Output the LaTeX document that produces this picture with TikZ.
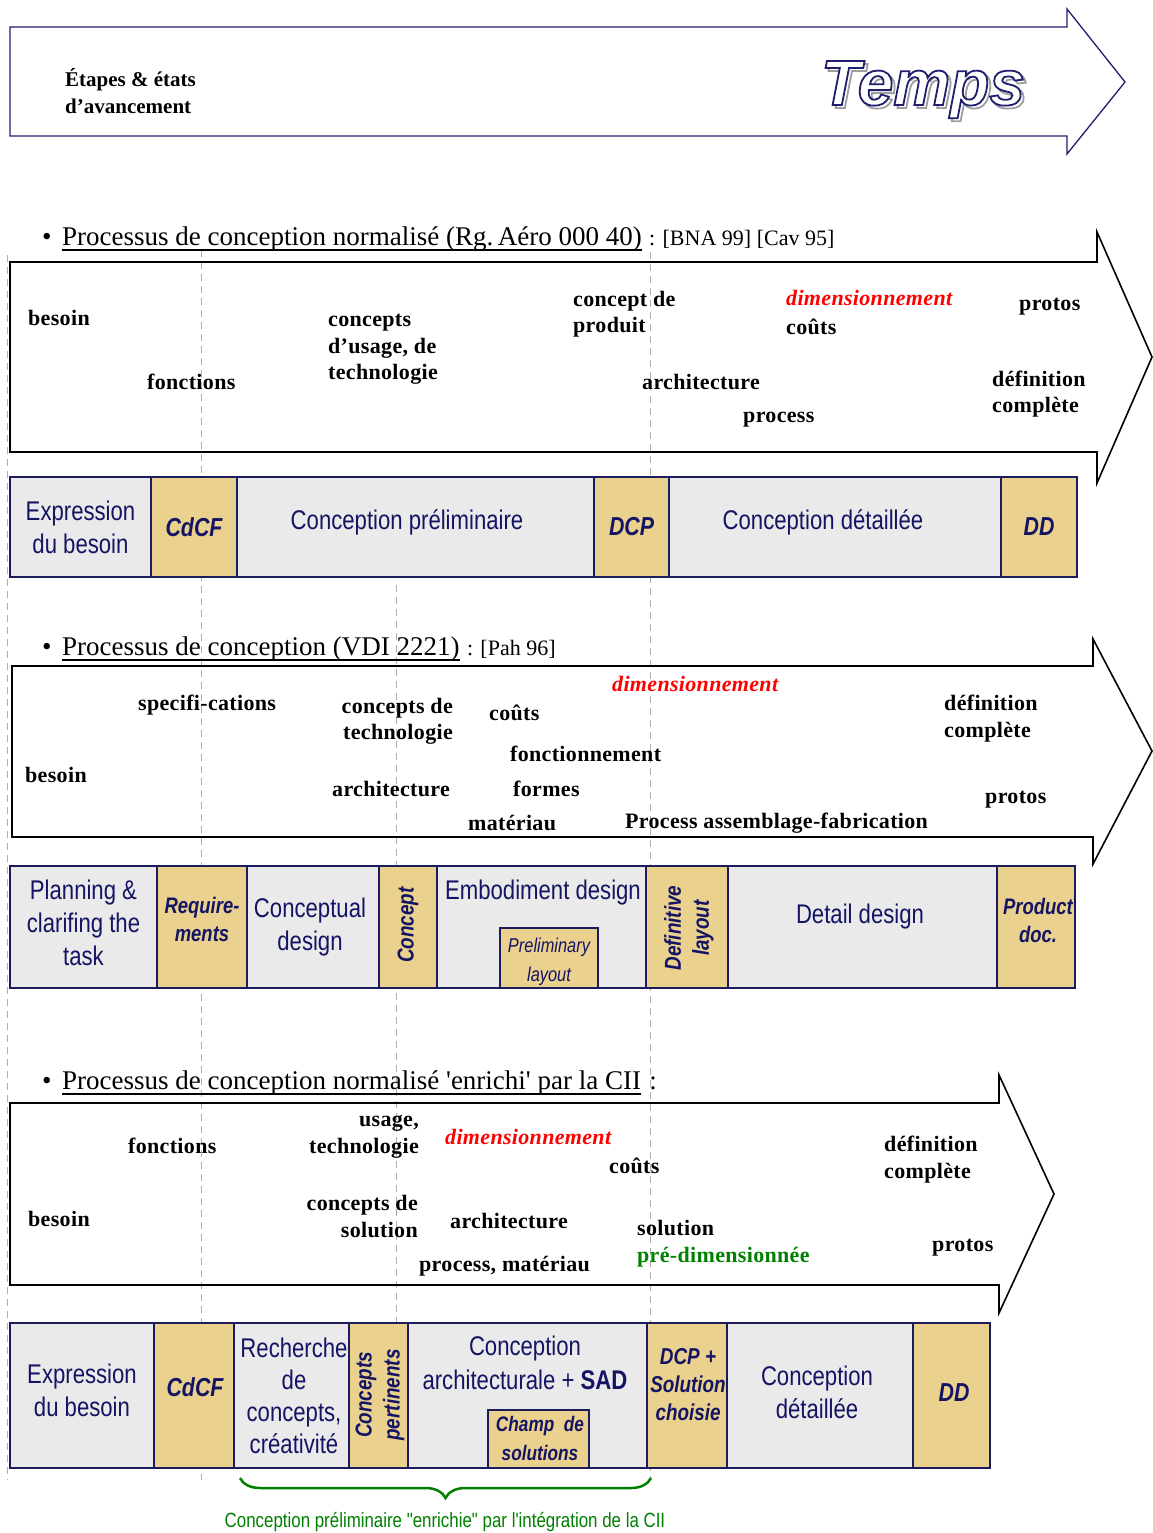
\documentclass[tikz,border=0pt]{standalone}
\usepackage{fontspec}
\usetikzlibrary{decorations.pathreplacing}
\newfontfamily\serifL{Liberation Serif}[Ligatures=TeXOff]
\newfontfamily\serifLS{Liberation Serif}[Ligatures=TeXOff,LetterSpace=1.5]
\newfontfamily\narL{Liberation Sans}[FakeStretch=0.82,Ligatures=TeXOff]
\newfontfamily\sansL{Liberation Sans}[Ligatures=TeXOff]
\definecolor{navyb}{RGB}{28,28,92}
\definecolor{navyt}{RGB}{20,20,100}
\definecolor{boxgray}{RGB}{234,234,234}
\definecolor{tanf}{RGB}{235,209,142}
\definecolor{dgray}{RGB}{175,175,175}
\definecolor{redl}{RGB}{255,0,0}
\definecolor{greenl}{RGB}{0,128,0}
\definecolor{topnavy}{RGB}{30,30,110}
\newcommand\LabF{\serifLS\bfseries\fontsize{22}{26.5}\selectfont}
\newcommand\TopF{\serifL\bfseries\fontsize{21}{27}\selectfont}
\newcommand\HeadF{\serifL\fontsize{27}{32}\selectfont}
\newcommand\RefF{\serifL\fontsize{22}{26}\selectfont}
\newcommand\BoxF{\narL\fontsize{27}{33}\selectfont}
\newcommand\TanF{\narL\bfseries\itshape\fontsize{26}{32}\selectfont}
\newcommand\TanSF{\narL\bfseries\itshape\fontsize{22.5}{28}\selectfont}
\newcommand\RotF{\narL\bfseries\itshape\fontsize{23}{28}\selectfont}
\newcommand\PrelF{\narL\itshape\fontsize{20}{29}\selectfont}
\newcommand\GreenF{\narL\fontsize{20.6}{24}\selectfont}
\newcommand\TempsF{\sansL\bfseries\itshape\fontsize{64}{70}\selectfont}
\newcommand\OutlineTxt[3]{\special{pdf:literal direct 2 Tr #2 w #1 RG}#3\special{pdf:literal direct 0 Tr}}
\begin{document}
\begin{tikzpicture}[x=1pt,y=-1pt,
  lab/.style={font=\LabF, inner sep=0pt, anchor=west},
  labm/.style={lab, align=left},
  labr/.style={font=\LabF, inner sep=0pt, anchor=east, align=right},
  dimlab/.style={lab, text=redl, font=\LabF\itshape},
  gbox/.style={draw=navyb, line width=1.2pt, fill=boxgray, text=navyt, font=\BoxF, align=center, inner sep=0pt, outer sep=0pt},
  tbox/.style={gbox, fill=tanf, line width=2pt, font=\TanF},
  rtext/.style={text=navyt, inner sep=0pt, rotate=90, align=center, font=\RotF},
  guide/.style={draw=dgray, line width=0.8pt, dash pattern=on 7pt off 5pt},
  bigarrow/.style={draw=black, line width=1.6pt, line join=miter},
  headt/.style={anchor=base west, inner sep=0pt, font=\HeadF},
  reft/.style={anchor=base west, inner sep=0pt, font=\RefF},
  tempsf/.style={font=\TempsF, inner sep=0pt, anchor=base},
]
\useasboundingbox (0,0) rectangle (1152,1533);

% ---------- top arrow ----------
\draw[draw=topnavy, line width=1.3pt, line join=miter]
  (10,27) -- (1067,27) -- (1067,9) -- (1125,82) -- (1067,154) -- (1067,136) -- (10,136) -- cycle;
\node[font=\TopF, inner sep=0pt, anchor=west, align=left] (etapes) at (65,91.5) {Étapes \& états\\d’avancement};
\coordinate (tc) at (923,105);
\node[tempsf, text=white, xshift=3pt, yshift=-3pt] (tshadow) at (tc) {\OutlineTxt{0.62 0.62 0.62}{1.8}{Temps}};
\node[tempsf, text=white] (temps) at (tc) {\OutlineTxt{0.12 0.12 0.43}{1.8}{Temps}};

% ---------- guide lines ----------
\coordinate (g1t) at (7,255);   \coordinate (g1b) at (7,1480);
\coordinate (g2t) at (201,250); \coordinate (g2b) at (201,1480);
\coordinate (g3t) at (396,585); \coordinate (g3b) at (396,1330);
\coordinate (g4t) at (650,252); \coordinate (g4b) at (650,1480);
\draw[guide] (g1t) -- (g1b);
\draw[guide] (g2t) -- (g2b);
\draw[guide] (g3t) -- (g3b);
\draw[guide] (g4t) -- (g4b);

% ---------- section 1 ----------
\node[headt] (h1b) at (42,245) {•};
\node[headt] (h1t) at (62,245) {Processus de conception normalisé (Rg.\,Aéro 000 40)};
\node[reft] (h1r) at ([xshift=7pt]h1t.base east) {: [BNA 99] [Cav 95]};
\draw[line width=1.5pt] ([yshift=-5pt]h1t.base west) -- ([yshift=-5pt]h1t.base east);

\draw[bigarrow] (10,262) -- (1097,262) -- (1097,232) -- (1152,357) -- (1097,483) -- (1097,452) -- (10,452) -- cycle;

\node[lab] (s1besoin) at (28,318) {besoin};
\node[lab] (s1fonc) at (147,382) {fonctions};
\node[labm] (s1conc) at (328,349.5) {concepts\\d’usage, de\\technologie};
\node[labm] (s1cprod) at (573,314) {concept de\\produit};
\node[dimlab] (s1dim) at (786,298) {dimensionnement};
\node[lab] (s1couts) at (786,327) {coûts};
\node[lab] (s1protos) at (1019,307) {protos};
\node[lab] (s1arch) at (642,382) {architecture};
\node[lab] (s1proc) at (743,420) {process};
\node[labm] (s1def) at (992,394) {définition\\complète};

% row 1 boxes
\node[gbox, minimum width=141, minimum height=100] (r1a) at (80.5,527) {Expression\\du besoin};
\node[tbox, minimum width=86, minimum height=100] (r1b) at (194,527) {CdCF};
\node[gbox, minimum width=357, minimum height=100] (r1c) at (415.5,527) {};
\node[text=navyt, font=\BoxF, inner sep=0pt] (r1ct) at (407,522) {Conception préliminaire};
\node[tbox, minimum width=75, minimum height=100] (r1d) at (631.5,527) {DCP};
\node[gbox, minimum width=332, minimum height=100] (r1e) at (835,527) {};
\node[text=navyt, font=\BoxF, inner sep=0pt] (r1et) at (823,522) {Conception détaillée};
\node[tbox, minimum width=76, minimum height=100] (r1f) at (1039,527) {DD};

% ---------- section 2 ----------
\node[headt] (h2b) at (42,655) {•};
\node[headt] (h2t) at (62,655) {Processus de conception (VDI 2221)};
\node[reft] (h2r) at ([xshift=7pt]h2t.base east) {: [Pah 96]};
\draw[line width=1.5pt] ([yshift=-5pt]h2t.base west) -- ([yshift=-5pt]h2t.base east);

\draw[bigarrow] (12,666) -- (1093,666) -- (1093,639) -- (1152,751) -- (1093,864) -- (1093,837) -- (12,837) -- cycle;

\node[lab] (s2spec) at (138,705) {specifi-cations};
\node[labr] (s2conc) at (453,721.5) {concepts de\\technologie};
\node[lab] (s2couts) at (489,713) {coûts};
\node[dimlab] (s2dim) at (612,684) {dimensionnement};
\node[labm] (s2def) at (944,718.5) {définition\\complète};
\node[lab] (s2fonc) at (510,754) {fonctionnement};
\node[lab] (s2besoin) at (25,775) {besoin};
\node[lab] (s2arch) at (332,789) {architecture};
\node[lab] (s2formes) at (513,789) {formes};
\node[lab] (s2protos) at (985,800) {protos};
\node[lab] (s2mat) at (468,823) {matériau};
\node[lab] (s2proc) at (625,823) {Process assemblage-fabrication};

% row 2 boxes
\node[gbox, minimum width=147, minimum height=122] (r2a) at (83.5,927) {};
\node[text=navyt, font=\BoxF, inner sep=0pt, align=center] (r2at) at (83.5,923) {Planning \&\\clarifing the\\task};
\node[tbox, font=\TanSF, minimum width=90, minimum height=122] (r2b) at (202,927) {};
\node[text=navyt, font=\TanSF, inner sep=0pt, align=center] (r2bt) at (202,919) {Require-\\ments};
\node[gbox, minimum width=132, minimum height=122] (r2c) at (313,927) {};
\node[text=navyt, font=\BoxF, inner sep=0pt, align=center] (r2ct) at (310,927) {Conceptual\\design};
\node[tbox, minimum width=58, minimum height=122] (r2d) at (408,927) {};
\node[rtext] (r2dt) at (408,925) {Concept};
\node[gbox, minimum width=209, minimum height=122] (r2e) at (541.5,927) {};
\node[text=navyt, font=\BoxF, inner sep=0pt] (r2et) at (543,893) {Embodiment design};
\node[tbox, font=\PrelF, minimum width=98, minimum height=60] (r2p) at (549,958) {};
\node[text=navyt, font=\PrelF, inner sep=0pt, align=center] (r2pt) at (549,961.5) {Preliminary\\layout};
\node[tbox, minimum width=82, minimum height=122] (r2f) at (687,927) {};
\node[rtext] (r2ft) at (689,928) {Definitive\\layout};
\node[gbox, minimum width=269, minimum height=122] (r2g) at (862.5,927) {};
\node[text=navyt, font=\BoxF, inner sep=0pt] (r2gt) at (860,917) {Detail design};
\node[tbox, minimum width=78, minimum height=122] (r2h) at (1036,927) {};
\node[text=navyt, font=\TanSF, inner sep=0pt, align=center] (r2ht) at (1038,920.5) {Product\\doc.};

% ---------- section 3 ----------
\node[headt] (h3b) at (42,1089) {•};
\node[headt] (h3t) at (62,1089) {Processus de conception normalisé 'enrichi' par la CII};
\node[headt] (h3r) at ([xshift=8pt]h3t.base east) {:};
\draw[line width=1.5pt] ([yshift=-5pt]h3t.base west) -- ([yshift=-5pt]h3t.base east);

\draw[bigarrow] (10,1103) -- (999,1103) -- (999,1075) -- (1054,1194) -- (999,1313) -- (999,1285) -- (10,1285) -- cycle;

\node[labr] (s3usage) at (419,1137) {usage,\\technologie};
\node[lab] (s3fonc) at (128,1146) {fonctions};
\node[dimlab] (s3dim) at (445,1137) {dimensionnement};
\node[lab] (s3couts) at (609,1166) {coûts};
\node[labm] (s3def) at (884,1159.5) {définition\\complète};
\node[labr] (s3conc) at (418,1216.5) {concepts de\\solution};
\node[lab] (s3besoin) at (28,1219) {besoin};
\node[lab] (s3arch) at (450,1221) {architecture};
\node[lab] (s3sol) at (637,1228) {solution};
\node[lab, text=greenl] (s3pre) at (637,1257) {pré-dimensionnée};
\node[lab] (s3protos) at (932,1248) {protos};
\node[lab] (s3proc) at (419,1266) {process, matériau};

% row 3 boxes
\node[gbox, minimum width=144, minimum height=145] (r3a) at (82,1395.5) {};
\node[text=navyt, font=\BoxF, inner sep=0pt, align=center] (r3at) at (82,1390) {Expression\\du besoin};
\node[tbox, minimum width=80, minimum height=145] (r3b) at (194,1395.5) {};
\node[text=navyt, font=\TanF, inner sep=0pt] (r3bt) at (195,1387) {CdCF};
\node[gbox, minimum width=115, minimum height=145] (r3c) at (291.5,1395.5) {};
\node[text=navyt, font=\narL\fontsize{27}{32}\selectfont, inner sep=0pt, align=center] (r3ct) at (294,1395.5) {Recherche\\de\\concepts,\\créativité};
\node[tbox, minimum width=59, minimum height=145] (r3d) at (378.5,1395.5) {};
\node[rtext] (r3dt) at (380,1395) {Concepts\\pertinents};
\node[gbox, minimum width=239, minimum height=145] (r3e) at (527.5,1395.5) {};
\node[text=navyt, font=\narL\fontsize{27}{34}\selectfont, inner sep=0pt, align=center] (r3et) at (525,1363) {Conception\\architecturale + \textbf{SAD}};
\node[tbox, minimum width=101, minimum height=58] (r3p) at (538.5,1439) {};
\node[text=navyt, font=\narL\bfseries\itshape\fontsize{21}{29}\selectfont, inner sep=0pt, align=center] (r3pt) at (540,1438.5) {Champ\ \ de\\solutions};
\node[tbox, minimum width=80, minimum height=145] (r3f) at (687,1395.5) {};
\node[text=navyt, font=\narL\bfseries\itshape\fontsize{23}{28}\selectfont, inner sep=0pt, align=center] (r3ft) at (688,1385) {DCP +\\Solution\\choisie};
\node[gbox, minimum width=186, minimum height=145] (r3g) at (820,1395.5) {};
\node[text=navyt, font=\BoxF, inner sep=0pt, align=center] (r3gt) at (817,1392.5) {Conception\\détaillée};
\node[tbox, minimum width=77, minimum height=145] (r3h) at (951.5,1395.5) {};
\node[text=navyt, font=\TanF, inner sep=0pt] (r3ht) at (954,1393) {DD};

% ---------- brace ----------
\coordinate (brl) at (240,1478);
\coordinate (brr) at (651,1478);
\draw[greenl, line width=2.5pt, decorate, decoration={brace, mirror, amplitude=20pt}] (brl) -- (brr);
\node[font=\GreenF, text=greenl, inner sep=0pt] (brtxt) at (445,1522) {Conception préliminaire "enrichie" par l'intégration de la CII};
\end{tikzpicture}
\end{document}
